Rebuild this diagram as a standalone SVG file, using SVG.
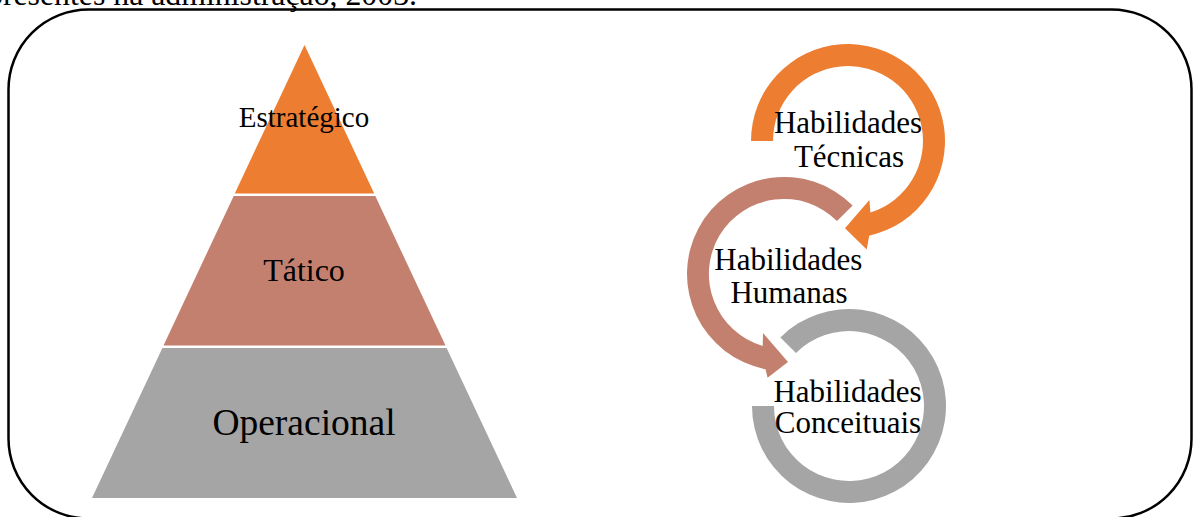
<svg xmlns="http://www.w3.org/2000/svg" width="1197" height="517" viewBox="0 0 1197 517">
  <style>
    .serif { font-family: "Liberation Serif", "Times New Roman", serif; fill: #000; }
    .mid { text-anchor: middle; }
    .orange { fill: #ED7D31; }
    .brown { fill: #C4806F; }
    .gray { fill: #A5A5A5; }
    .frame { fill: none; stroke: #000; stroke-width: 2.5; }
  </style>

  <rect width="1197" height="517" fill="#fff"/>

  <!-- caption line running above the frame -->
  <text class="serif" x="-13" y="5" font-size="31.8">presentes na administração, 2003.</text>

  <!-- rounded outer frame -->
  <rect class="frame" x="8.5" y="9.5" width="1183" height="509" rx="80" ry="80"/>

  <!-- pyramid of management levels -->
  <g id="level-estrategico">
    <polygon class="orange" points="304.5,45 374.2,193.5 234.8,193.5"/>
    <text class="serif mid" x="304" y="127" font-size="29">Estratégico</text>
  </g>
  <g id="level-tatico">
    <polygon class="brown" points="233.7,196 375.3,196 445.5,345.5 163.5,345.5"/>
    <text class="serif mid" x="304" y="281" font-size="32">Tático</text>
  </g>
  <g id="level-operacional">
    <polygon class="gray" points="162.4,348 446.6,348 517,498 92,498"/>
    <text class="serif mid" x="304" y="435" font-size="37.5">Operacional</text>
  </g>

  <!-- circular arrows of skills -->
  <g id="skill-tecnicas">
    <path class="orange" d="M751,141 A97,97 0 1 1 869.2,235.7 L866.7,249.4 L845,228.3 L869.4,199.9 L870.4,212.6 A75,75 0 1 0 773,141 Z"/>
    <text class="serif mid" x="848" y="133.3" font-size="31">Habilidades</text>
    <text class="serif mid" x="849" y="166.7" font-size="31">Técnicas</text>
  </g>
  <g id="skill-humanas">
    <path class="brown" d="M852.6,205.4 A97,97 0 1 0 765.5,369.2 L767.6,377.7 L788,361.9 L763,333 L762.7,345.9 A75,75 0 1 1 837,221 Z"/>
    <text class="serif mid" x="788.3" y="270" font-size="31">Habilidades</text>
    <text class="serif mid" x="789" y="302.7" font-size="31">Humanas</text>
  </g>
  <g id="skill-conceituais">
    <path class="gray" d="M780.4,337.4 A97,97 0 1 1 752,406 L774,406 A75,75 0 1 0 796,353 Z"/>
    <text class="serif mid" x="847.5" y="401.7" font-size="31">Habilidades</text>
    <text class="serif mid" x="848" y="433.3" font-size="31">Conceituais</text>
  </g>
</svg>
